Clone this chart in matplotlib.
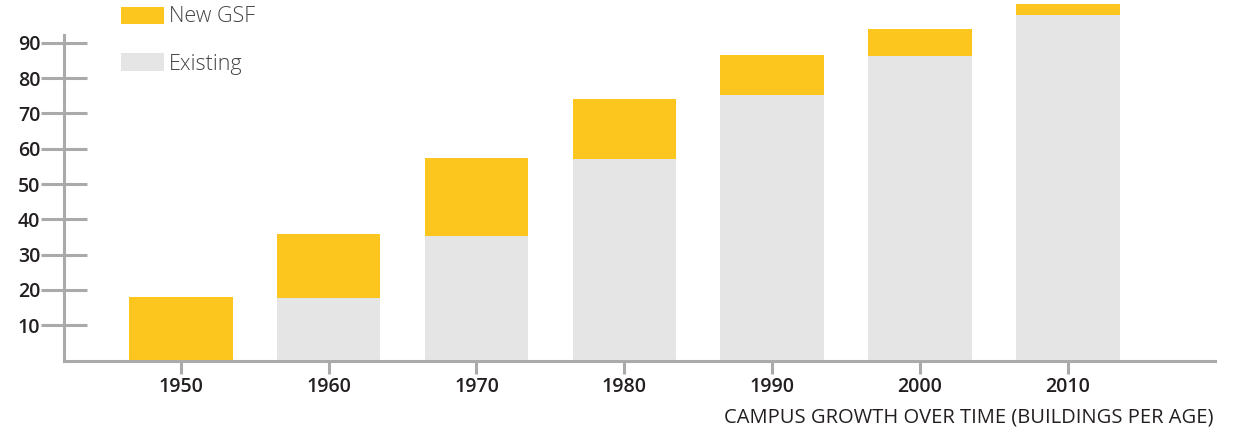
import matplotlib
matplotlib.use("Agg")
import matplotlib.pyplot as plt
from matplotlib.patches import Rectangle

# Campus gross square footage by decade
decades = ["1950", "1960", "1970", "1980", "1990", "2000", "2010"]
existing = [0.0, 17.7, 35.3, 57.1, 75.2, 86.3, 97.9]
new_gsf = [18.1, 18.1, 22.0, 17.0, 11.3, 7.6, 3.1]
y_ticks = [10, 20, 30, 40, 50, 60, 70, 80, 90]

YELLOW = "#FDC61E"
GREY = "#E5E5E5"
AXIS = "#AAAAAA"
TEXT = "#231F20"
FONT = ["Open Sans", "DejaVu Sans"]

W, H = 1236, 428
fig = plt.figure(figsize=(W / 100, H / 100), dpi=100)
ax = fig.add_axes([64 / W, 1 - 360.5 / H, (1215 - 64) / W, 360.5 / H])

x = list(range(len(decades)))
ax.bar(x, existing, width=0.70, color=GREY, linewidth=0)
ax.bar(x, new_gsf, width=0.70, bottom=existing, color=YELLOW, linewidth=0)

ax.set_xlim(-0.79, 6.995)
ax.set_ylim(0, 360.5 / 3.53)

for side in ("top", "right"):
    ax.spines[side].set_visible(False)
for side in ("left", "bottom"):
    ax.spines[side].set_color(AXIS)
    ax.spines[side].set_linewidth(2.2)
ax.spines["left"].set_bounds(0, 92.2)

ax.set_xticks(x)
ax.set_xticklabels(decades, fontfamily=FONT, fontweight="semibold",
                   fontsize=14, color=TEXT)
ax.tick_params(axis="x", direction="out", length=9, width=2.2,
               color=AXIS, pad=3)

ax.set_yticks(y_ticks)
ax.set_yticklabels([str(v) for v in y_ticks], fontfamily=FONT,
                   fontweight="semibold", fontsize=14, color=TEXT)
ax.tick_params(axis="y", direction="inout", length=33, width=2.2,
               color=AXIS, pad=0.5)

# Legend swatches and labels
def swatch(x0, y0, x1, y1, color, label, baseline):
    fig.patches.append(Rectangle((x0 / W, 1 - y1 / H), (x1 - x0) / W,
                                 (y1 - y0) / H, transform=fig.transFigure,
                                 facecolor=color, linewidth=0))
    fig.text(169 / W, 1 - baseline / H, label, fontfamily=FONT,
             fontweight="light", fontsize=15.5, color="#444444",
             ha="left", va="baseline")

swatch(121, 7, 164, 24, YELLOW, "New GSF", 21.5)
swatch(121, 53, 164, 71, GREY, "Existing", 70)

fig.text(1213 / W, 1 - 422 / H, "CAMPUS GROWTH OVER TIME (BUILDINGS PER AGE)",
         fontfamily=FONT, fontsize=14.5, color=TEXT, ha="right", va="baseline")

fig.savefig("out.png", dpi=100, facecolor="white")
